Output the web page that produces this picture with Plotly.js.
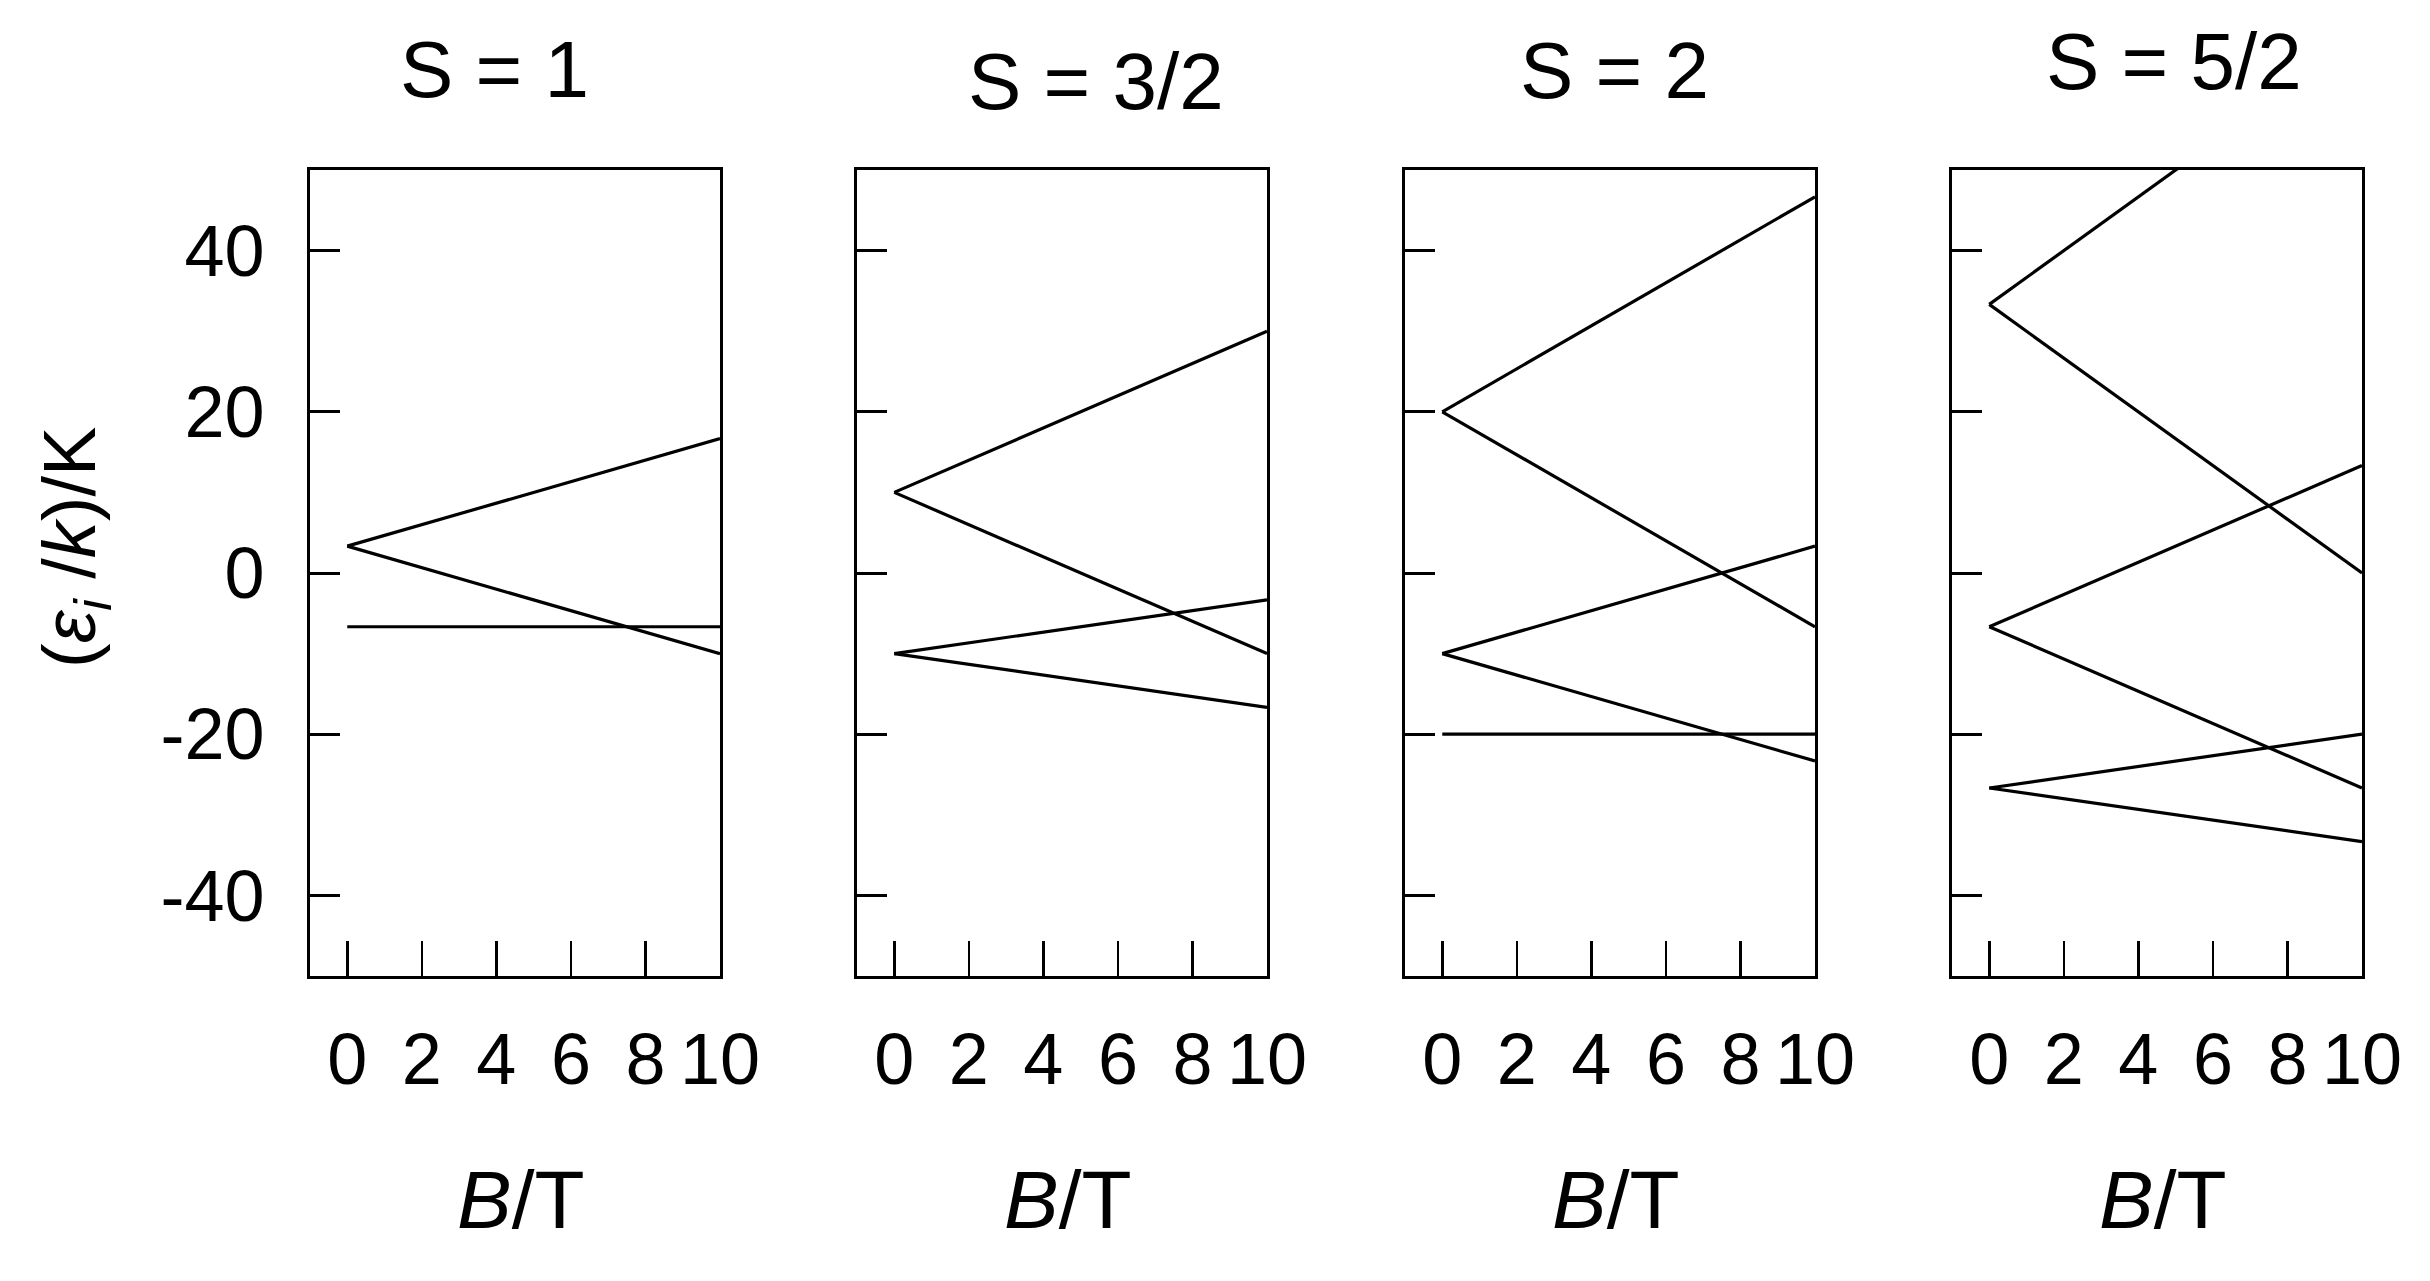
<!DOCTYPE html>
<html lang="en">
<head>
    <meta charset="UTF-8">
    <title>Zeeman levels</title>
    <script src="https://cdn.plot.ly/plotly-3.0.1.min.js"></script>
    <style>
        body { margin: 0; background: #fff; }
        #graph { width: 2430px; height: 1281px; }
    </style>
</head>
<body>
    <div id="graph"></div>
    <script>
        // field values (T) at both ends of every level line
        var B = [0, 10];

        // S = 1 levels, energy in K
        var s1Up = [3.33, 16.67];
        var s1Down = [3.33, -10];
        var s1Flat = [-6.67, -6.67];

        // S = 3/2
        var s32UpA = [10, 30];
        var s32DownA = [10, -10];
        var s32UpB = [-10, -3.33];
        var s32DownB = [-10, -16.67];

        // S = 2
        var s2UpA = [20, 46.67];
        var s2DownA = [20, -6.67];
        var s2UpB = [-10, 3.33];
        var s2DownB = [-10, -23.33];
        var s2Flat = [-20, -20];

        // S = 5/2
        var s52UpA = [33.33, 66.67];
        var s52DownA = [33.33, 0];
        var s52UpB = [-6.67, 13.33];
        var s52DownB = [-6.67, -26.67];
        var s52UpC = [-26.67, -20];
        var s52DownC = [-26.67, -33.33];

        var panelTitles = ['S = 1', 'S = 3/2', 'S = 2', 'S = 5/2'];
        var xTicks = [0, 2, 4, 6, 8, 10];
        var yTicks = [-40, -20, 0, 20, 40];

        var panels = [
            [s1Up, s1Down, s1Flat],
            [s32UpA, s32DownA, s32UpB, s32DownB],
            [s2UpA, s2DownA, s2UpB, s2DownB, s2Flat],
            [s52UpA, s52DownA, s52UpB, s52DownB, s52UpC, s52DownC]
        ];

        var W = 2430, H = 1281;
        var font = 'Liberation Sans, Arial, sans-serif';
        var left = [310, 857, 1405, 1952];
        var boxW = 410;
        var titlePos = [[494, 70], [1096, 82], [1614, 71], [2174, 61]];

        var traces = [];
        panels.forEach(function(levels, p) {
            var n = p === 0 ? '' : String(p + 1);
            levels.forEach(function(y) {
                traces.push({
                    x: B, y: y, type: 'scatter', mode: 'lines',
                    xaxis: 'x' + n, yaxis: 'y' + n,
                    line: { color: 'black', width: 3.2 },
                    showlegend: false, hoverinfo: 'skip'
                });
            });
        });

        var layout = {
            width: W, height: H,
            margin: { l: 0, r: 0, t: 0, b: 0 },
            paper_bgcolor: 'white', plot_bgcolor: 'white',
            font: { family: font, color: 'black' },
            showlegend: false,
            annotations: []
        };

        var yTop = 1 - 170 / H, yBot = 1 - 976 / H;
        for (var p = 0; p < 4; p++) {
            var n = p === 0 ? '' : String(p + 1);
            layout['xaxis' + n] = {
                domain: [left[p] / W, (left[p] + boxW) / W],
                anchor: 'y' + n,
                range: [-1, 10],
                tickvals: xTicks,
                ticks: 'inside', ticklen: 35, tickwidth: 2.5, tickcolor: 'black',
                ticklabelstandoff: 19,
                tickfont: { size: 72, family: font, color: 'black' },
                showline: true, mirror: true, linewidth: 3, linecolor: 'black',
                showgrid: false, zeroline: false, fixedrange: true
            };
            layout['yaxis' + n] = {
                domain: [yBot, yTop],
                anchor: 'x' + n,
                range: [-50, 50],
                tickvals: yTicks,
                ticktext: yTicks.map(String),
                ticks: 'inside', ticklen: 30, tickwidth: 3, tickcolor: 'black',
                showticklabels: p === 0,
                ticklabelstandoff: 28,
                tickfont: { size: 72, family: font, color: 'black' },
                showline: true, mirror: true, linewidth: 3, linecolor: 'black',
                showgrid: false, zeroline: false, fixedrange: true
            };
            layout.annotations.push({
                text: panelTitles[p], xref: 'paper', yref: 'paper',
                x: titlePos[p][0] / W, y: 1 - titlePos[p][1] / H,
                xanchor: 'center', yanchor: 'middle', showarrow: false,
                font: { size: 80, family: font, color: 'black' }
            });
            layout.annotations.push({
                text: '<i>B</i>/T', xref: 'paper', yref: 'paper',
                x: (left[p] + boxW / 2 + 6) / W, y: 1 - 1199 / H,
                xanchor: 'center', yanchor: 'middle', showarrow: false,
                font: { size: 82, family: font, color: 'black' }
            });
        }

        layout.annotations.push({
            text: '(<i>ε<sub>i</sub></i> /<i>k</i>)/K', xref: 'paper', yref: 'paper',
            x: 75 / W, y: 1 - 548 / H, textangle: -90,
            xanchor: 'center', yanchor: 'middle', showarrow: false,
            font: { size: 74, family: font, color: 'black' }
        });

        Plotly.newPlot('graph', traces, layout, { staticPlot: true });
    </script>
</body>
</html>
